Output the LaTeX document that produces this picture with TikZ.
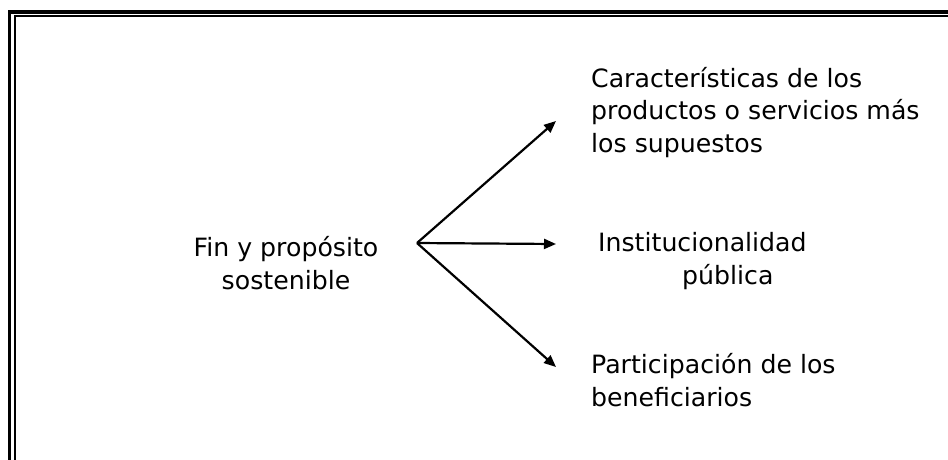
\documentclass[tikz,border=0pt]{standalone}
\usepackage{fontspec}
\setmainfont{DejaVu Sans}
\usetikzlibrary{arrows.meta}
\tikzset{
  label text/.style={inner sep=0pt, font=\fontsize{25.2}{32.5}\selectfont},
  branch/.style={line width=2.2pt, -{Triangle[length=12pt,width=10pt]}},
  outer rule/.style={line width=3.6pt},
  inner rule/.style={line width=1.8pt}
}
\begin{document}
\begin{tikzpicture}[x=1pt,y=-1pt]
  \useasboundingbox (0,0) rectangle (948,459);
  \clip (0,0) rectangle (948,459);
  % double frame (left and top edges)
  \draw[outer rule] (9.5,470) -- (9.5,12) -- (960,12);
  \draw[inner rule] (15,470) -- (15,16.3) -- (960,16.3);

  % root text and branch point (base anchor sits on the last line)
  \node[label text, anchor=base, align=center] (root) at (286,289) {Fin y propósito\\sostenible};
  \coordinate (hub) at (417,243);

  % targets
  \node[label text, anchor=base west, align=left] (prod) at (591,152) {Características de los\\productos o servicios más\\los supuestos};
  \node[label text, anchor=base west, align=left] (inst) at (598,284) {Institucionalidad\\\hspace*{84pt}pública};
  \node[label text, anchor=base west, align=left] (part) at (591,406) {Participación de los\\beneficiarios};

  \coordinate (tipA) at (556,121);
  \coordinate (tipB) at (556,244);
  \coordinate (tipC) at (556,367);

  \draw[branch] (hub) -- (tipA);
  \draw[branch] (hub) -- (tipB);
  \draw[branch] (hub) -- (tipC);
\end{tikzpicture}
\end{document}
